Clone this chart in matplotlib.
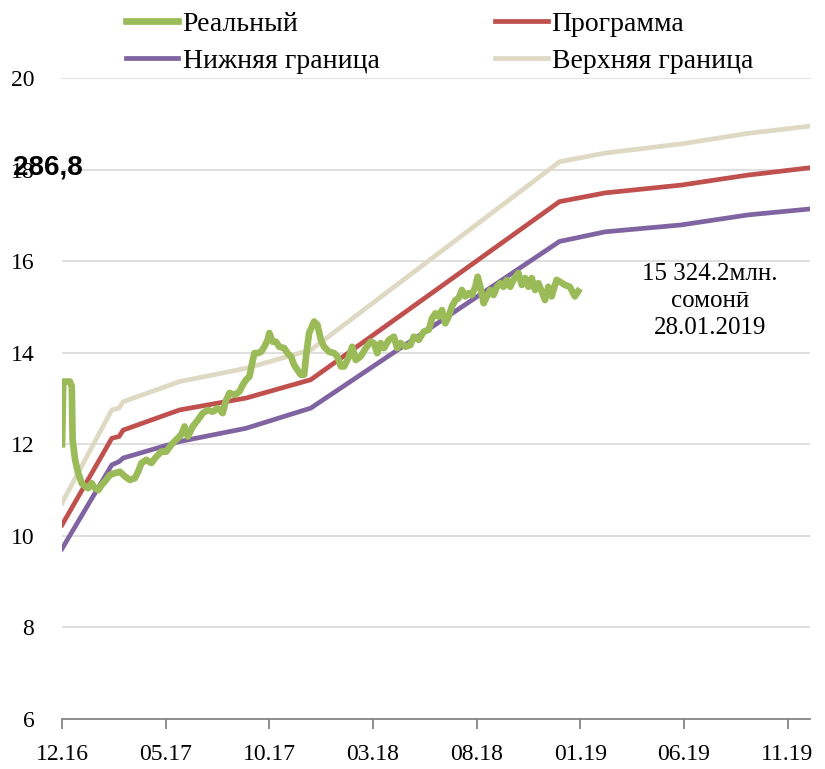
import matplotlib
matplotlib.use("Agg")
import matplotlib.pyplot as plt

plt.rcParams['font.family'] = ['Liberation Serif', 'DejaVu Serif']

# x = months since 12.2016
tick_labels = ["12.16", "05.17", "10.17", "03.18", "08.18", "01.19", "06.19", "11.19"]
tick_pos = [0, 5, 10, 15, 20, 25, 30, 35]

real_m = [0.0, 0.06, 0.38, 0.47, 0.51, 0.63, 0.78, 0.95, 1.11, 1.26, 1.43, 1.59, 1.75,
          1.91, 2.07, 2.31, 2.55, 2.79, 3.03, 3.27, 3.51, 3.67, 3.83, 4.07, 4.31, 4.55,
          4.79, 5.03, 5.27, 5.51, 5.75, 5.91, 6.07, 6.31, 6.55, 6.79, 7.03, 7.27, 7.51,
          7.75, 7.92, 8.08, 8.32, 8.56, 8.72, 8.88, 9.04, 9.17, 9.28, 9.44, 9.60, 9.76,
          9.92, 10.0, 10.16, 10.32, 10.48, 10.72, 10.88, 11.04, 11.20, 11.36, 11.52,
          11.68, 11.79, 11.92, 12.16, 12.32, 12.49, 12.64, 12.88, 13.13, 13.28, 13.45,
          13.61, 13.85, 14.0, 14.17, 14.41, 14.65, 14.89, 15.05, 15.21, 15.37, 15.53,
          15.77, 16.01, 16.17, 16.33, 16.57, 16.81, 16.97, 17.21, 17.45, 17.69, 17.85,
          18.01, 18.17, 18.33, 18.49, 18.65, 18.81, 18.98, 19.13, 19.29, 19.46, 19.62,
          19.77, 19.94, 20.05, 20.18, 20.34, 20.50, 20.66, 20.82, 20.98, 21.14, 21.30,
          21.46, 21.62, 21.78, 22.02, 22.18, 22.34, 22.50, 22.66, 22.82, 22.98, 23.14,
          23.30, 23.46, 23.62, 23.86, 24.02, 24.26, 24.50, 24.74, 24.90]
real_v = [12.0, 13.37, 13.37, 13.26, 12.1, 11.66, 11.37, 11.15, 11.08, 11.04, 11.15, 11.04,
          11.0, 11.11, 11.19, 11.33, 11.37, 11.40, 11.30, 11.22, 11.26, 11.40, 11.59, 11.66,
          11.59, 11.73, 11.84, 11.84, 11.99, 12.10, 12.21, 12.39, 12.17, 12.39, 12.53,
          12.68, 12.75, 12.71, 12.79, 12.68, 12.97, 13.12, 13.08, 13.15, 13.30, 13.41,
          13.48, 13.77, 13.99, 13.99, 14.02, 14.13, 14.28, 14.43, 14.24, 14.24, 14.13,
          14.10, 13.99, 13.92, 13.73, 13.62, 13.52, 13.52, 13.99, 14.43, 14.68, 14.61,
          14.28, 14.13, 14.02, 13.99, 13.92, 13.70, 13.70, 13.92, 14.13, 13.84, 13.92,
          14.10, 14.24, 14.21, 13.99, 14.21, 14.10, 14.28, 14.35, 14.10, 14.21, 14.13,
          14.17, 14.35, 14.28, 14.46, 14.50, 14.75, 14.86, 14.79, 14.93, 14.64, 14.79,
          15.01, 15.15, 15.19, 15.37, 15.23, 15.30, 15.26, 15.44, 15.66, 15.44, 15.08,
          15.23, 15.37, 15.26, 15.44, 15.52, 15.44, 15.59, 15.44, 15.59, 15.74, 15.48,
          15.63, 15.44, 15.63, 15.37, 15.52, 15.34, 15.15, 15.44, 15.23, 15.59, 15.55,
          15.48, 15.44, 15.23, 15.34]

plan_m = [0.0, 2.4, 2.75, 2.95, 5.67, 8.88, 12.0, 24.0, 26.2, 29.86, 33.1, 36.1]
prog_v = [10.24, 12.13, 12.17, 12.31, 12.75, 13.01, 13.41, 17.30, 17.49, 17.66, 17.88, 18.04]
low_v = [9.72, 11.55, 11.62, 11.70, 12.06, 12.35, 12.79, 16.43, 16.64, 16.79, 17.01, 17.14]
up_v = [10.72, 12.75, 12.79, 12.93, 13.37, 13.66, 14.06, 18.17, 18.36, 18.56, 18.79, 18.95]

fig = plt.figure(figsize=(8.25, 7.69), dpi=100)
ax = fig.add_axes([0.0752, 0.065, 0.907, 0.8336])

ax.plot(plan_m, up_v, color="#DDD9C3", lw=3.4, label="Верхняя граница", zorder=2)
ax.plot(plan_m, prog_v, color="#C0504D", lw=3.4, label="Программа", zorder=3)
ax.plot(plan_m, low_v, color="#8064A2", lw=3.4, label="Нижняя граница", zorder=3)
ax.plot(real_m, real_v, color="#9BBB59", lw=4.8, label="Реальный", zorder=4,
        solid_joinstyle="round")

ax.set_xlim(0, 36.1)
ax.set_ylim(6, 20)
ax.set_yticks(range(6, 21, 2))
ax.set_xticks(tick_pos)
ax.set_xticklabels(tick_labels)
ax.grid(axis="y", color="#D9D9D9", lw=1.2)
ax.set_axisbelow(True)
for s in ["top", "right", "left"]:
    ax.spines[s].set_visible(False)
ax.spines["bottom"].set_color("#868686")
ax.spines["bottom"].set_linewidth(1.3)
ax.tick_params(axis="x", direction="out", length=7, width=1.3, color="#868686",
               labelsize=17, pad=11)
ax.tick_params(axis="y", length=0, labelsize=17, pad=20)

h, l = ax.get_legend_handles_labels()
# column-major fill: Реальный, Нижняя | Программа, Верхняя
order = [3, 2, 1, 0]
fig.legend([h[i] for i in order], [l[i] for i in order], ncol=2, frameon=False,
           loc="upper left", bbox_to_anchor=(0.122, 1.018), fontsize=20,
           handlelength=1.9, handletextpad=0.15, columnspacing=4.15,
           labelspacing=0.42)

ax.text(0.866, 0.652, "15 324.2млн.\nсомонӣ\n28.01.2019", transform=ax.transAxes,
        ha="center", va="center", fontsize=18, linespacing=1.3)
fig.text(0.016, 0.782, "286,8", family=["Liberation Sans", "DejaVu Sans"],
         fontweight="bold", fontsize=20, va="center", ha="left")

fig.savefig("out.png", dpi=100)
